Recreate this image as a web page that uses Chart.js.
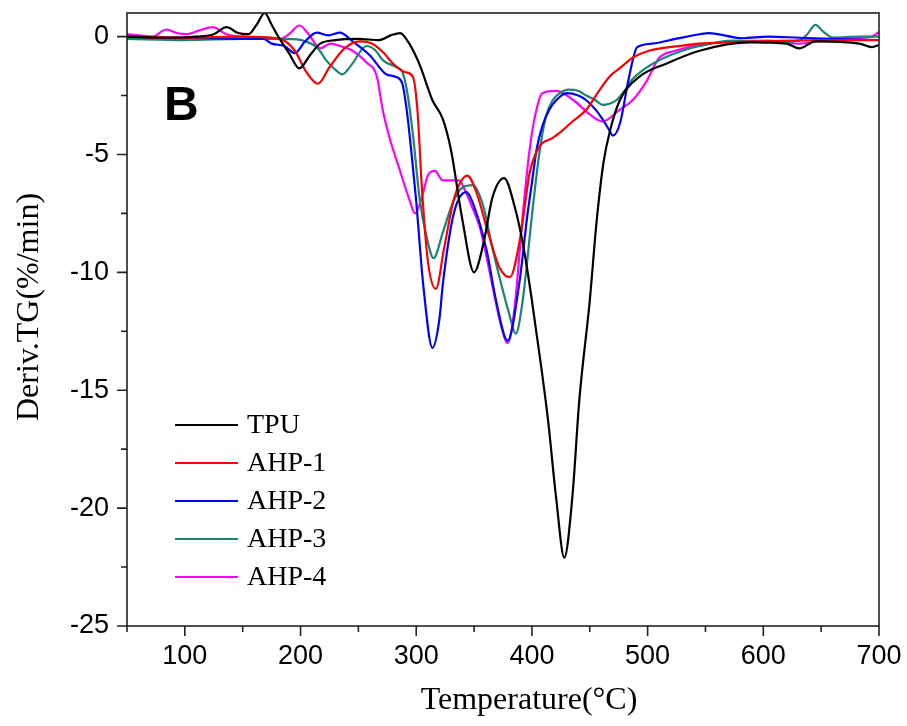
<!DOCTYPE html>
<html><head><meta charset="utf-8">
<script src="https://cdn.jsdelivr.net/npm/chart.js@4.4.1/dist/chart.umd.min.js"></script>
<style>html,body{margin:0;padding:0;background:#fff;}#wrap{width:907px;height:726px;}</style>
</head><body><div id="wrap"><canvas id="c" width="907" height="726"></canvas></div>
<script>
const xTicks = [100,200,300,400,500,600,700];
const yTicks = [-25,-20,-15,-10,-5,0];
const seriesNames = ['TPU','AHP-1','AHP-2','AHP-3','AHP-4'];
const seriesColors = ['#000000','#ff0000','#0000ff','#1b8474','#ff00ff'];
const panelLabel = 'B';
const xTitle = 'Temperature(\u00B0C)';
const yTitle = 'Deriv.TG(%/min)';

const tpuT = [50,80,110,125,136,146,155,162,169,175,182,190,199,208,217,230,250,268,278,286,294,303,314,323,330,340,350,358,366,376,385,393,400,408,414,421,428,435,441,450,456,462,468,476,493,516,545,588,620,631,645,683,694,700];
const tpuV = [0,-0.05,0,0.1,0.4,0.15,0.1,0.5,1.0,0.5,-0.1,-0.7,-1.35,-0.8,-0.3,-0.15,-0.1,-0.15,0.05,0.15,-0.3,-1.2,-2.7,-3.5,-4.8,-7.8,-10.0,-8.8,-6.8,-6.0,-7.2,-9.0,-11.2,-14.0,-16.3,-19.6,-22.1,-19.5,-15.4,-11.2,-7.8,-5.3,-3.9,-2.7,-1.7,-1.15,-0.6,-0.25,-0.3,-0.5,-0.2,-0.3,-0.45,-0.35];

const ahp1T = [50,100,150,182,195,205,215,225,238,251,262,272,280,290,297,301,305,310,317,324,332,338,344,352,362,372,381,390,398,406,418,426,435,447,458,467,477,487,501,530,545,600,650,700];
const ahp1V = [0,-0.05,0,-0.1,-0.6,-1.5,-2.0,-1.3,-0.5,-0.2,-0.3,-0.7,-1.15,-1.5,-1.7,-3.1,-6.5,-9.5,-10.7,-9.0,-7.0,-6.2,-5.9,-6.6,-8.3,-9.8,-10.2,-8.5,-5.8,-4.7,-4.3,-4.0,-3.6,-3.1,-2.3,-1.7,-1.3,-0.9,-0.6,-0.38,-0.3,-0.2,-0.15,-0.15];

const ahp2T = [50,100,150,168,175,186,195,204,214,224,234,245,260,274,282,288,292,296,300,306,314,320,323,332,343,350,361,369,379,389,396,400,404,409,415,421,430,440,447,455,461,466,470,476,484,491,504,524,545,553,582,604,631,660,700];
const ahp2V = [0,-0.05,-0.1,-0.1,-0.3,-0.4,-0.7,-0.2,0.17,0.05,0.17,-0.2,-0.8,-1.6,-1.7,-2.0,-3.2,-5.0,-7.0,-10.5,-13.2,-12.0,-10.5,-7.6,-6.6,-7.2,-9.1,-11.2,-12.9,-10.5,-7.6,-6.2,-4.8,-3.8,-3.1,-2.7,-2.4,-2.5,-2.7,-3.1,-3.5,-3.9,-4.2,-3.7,-1.7,-0.45,-0.3,-0.1,0.1,0.15,-0.07,0,-0.05,-0.1,-0.15];

const ahp3T = [50,100,150,187,204,215,222,230,236,244,257,265,271,283,288,292,297,303,309,315,323,332,340,349,358,366,374,380,386,392,400,406,412,418,424,432,440,447,455,461,467,473,480,487,498,510,530,545,574,604,631,638,645,652,660,683,700];
const ahp3V = [-0.1,-0.15,-0.1,-0.1,-0.2,-0.5,-1.0,-1.4,-1.6,-1.2,-0.4,-0.6,-1.0,-1.3,-1.5,-2.3,-4.1,-6.9,-8.5,-9.4,-8.3,-7.0,-6.4,-6.3,-7.2,-9.0,-10.6,-11.7,-12.6,-11.2,-7.6,-5.1,-3.4,-2.7,-2.4,-2.25,-2.3,-2.5,-2.7,-2.9,-2.85,-2.7,-2.3,-1.8,-1.35,-1.0,-0.6,-0.4,-0.17,-0.24,-0.17,0.1,0.5,0.2,-0.04,0,0];

const ahp4T = [50,60,72,84,93,101,112,124,136,150,170,182,190,199,207,217,226,234,245,257,266,271,277,286,294,299,305,310,316,323,330,337,342,348,355,366,373,379,385,392,398,403,409,421,436,450,461,476,487,499,510,524,545,604,631,660,694,700];
const ahp4V = [0.1,0.05,0,0.3,0.15,0.1,0.25,0.4,0.1,0,-0.05,-0.1,0.1,0.47,0.1,-0.5,-0.3,-0.4,-0.6,-1.1,-1.7,-3.1,-4.3,-5.7,-6.9,-7.5,-6.8,-5.9,-5.7,-6.1,-6.1,-6.1,-6.5,-7.2,-8.1,-10.6,-12.2,-13.0,-11.5,-7.6,-4.8,-3.3,-2.4,-2.3,-2.7,-3.3,-3.6,-3.1,-2.7,-1.9,-0.9,-0.6,-0.35,-0.17,-0.3,-0.1,0,0.2];

const allT = [tpuT, ahp1T, ahp2T, ahp3T, ahp4T];
const allV = [tpuV, ahp1V, ahp2V, ahp3V, ahp4V];

const datasets = seriesNames.map((name, i) => ({
  label: name,
  data: allT[i].map((t, k) => ({x: t, y: allV[i][k]})),
  borderColor: seriesColors[i],
  backgroundColor: seriesColors[i],
  borderWidth: 2.2,
  pointRadius: 0,
  fill: false,
  cubicInterpolationMode: 'monotone'
}));

const tickFont = {family: "'Liberation Sans',Arial,sans-serif", size: 27};
const serif = "'Liberation Serif','Times New Roman',serif";

const decor = {
  id: 'decor',
  afterDraw(chart) {
    const ctx = chart.ctx, a = chart.chartArea;
    const xs = chart.scales.x, ys = chart.scales.y;
    ctx.save();
    ctx.strokeStyle = '#222';
    ctx.lineWidth = 1.6;
    ctx.strokeRect(a.left, a.top, a.right - a.left, a.bottom - a.top);
    ctx.beginPath();
    for (let v = 50; v <= 700; v += 50) {
      const p = xs.getPixelForValue(v);
      const len = v % 100 === 0 ? 10 : 6;
      ctx.moveTo(p, a.bottom); ctx.lineTo(p, a.bottom + len);
    }
    for (let v = -25; v <= 0; v += 2.5) {
      const p = ys.getPixelForValue(v);
      const len = v % 5 === 0 ? 10 : 6;
      ctx.moveTo(a.left - len, p); ctx.lineTo(a.left, p);
    }
    ctx.stroke();
    ctx.fillStyle = '#000';
    ctx.font = "bold 48px 'Liberation Sans',Arial,sans-serif";
    ctx.textBaseline = 'alphabetic';
    ctx.textAlign = 'left';
    ctx.fillText(panelLabel, a.left + 37, 120);
    ctx.font = '28px ' + serif;
    ctx.textBaseline = 'middle';
    chart.data.datasets.forEach((ds, i) => {
      const y = 425 + i * 38;
      ctx.strokeStyle = ds.borderColor;
      ctx.lineWidth = 2;
      ctx.beginPath();
      ctx.moveTo(a.left + 48, y); ctx.lineTo(a.left + 111, y);
      ctx.stroke();
      ctx.fillStyle = '#000';
      ctx.fillText(ds.label, a.left + 120, y + 1);
    });
    ctx.font = '32px ' + serif;
    ctx.textAlign = 'center';
    ctx.textBaseline = 'middle';
    ctx.fillText(xTitle, 529, 701);
    ctx.translate(30, 307);
    ctx.rotate(-Math.PI / 2);
    ctx.fillText(yTitle, 0, 0);
    ctx.restore();
  }
};

new Chart(document.getElementById('c'), {
  type: 'line',
  data: {datasets},
  options: {
    responsive: false,
    animation: false,
    devicePixelRatio: 1,
    layout: {padding: {top: 13, right: 28, left: 0, bottom: 0}},
    plugins: {legend: {display: false}, tooltip: {enabled: false}},
    scales: {
      x: {
        type: 'linear', min: 50, max: 700,
        afterBuildTicks: s => { s.ticks = xTicks.map(v => ({value: v})); },
        afterFit: s => { s.height = 100; s.paddingLeft = 0; s.paddingRight = 0; },
        grid: {display: false, drawTicks: false},
        border: {display: false},
        ticks: {font: tickFont, color: '#000', padding: 14, maxRotation: 0, autoSkip: false}
      },
      y: {
        type: 'linear', min: -25, max: 1,
        afterBuildTicks: s => { s.ticks = yTicks.map(v => ({value: v})); },
        afterFit: s => { s.width = 127; s.paddingTop = 0; s.paddingBottom = 0; },
        grid: {display: false, drawTicks: false},
        border: {display: false},
        ticks: {font: tickFont, color: '#000', padding: 18, autoSkip: false}
      }
    }
  },
  plugins: [decor]
});
</script></body></html>
